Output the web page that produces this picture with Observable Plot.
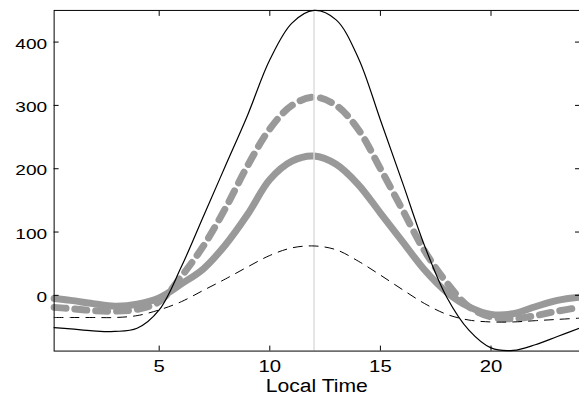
<!DOCTYPE html>
<html><head><meta charset="utf-8">
<script src="https://cdn.jsdelivr.net/npm/d3@7"></script>
<script src="https://cdn.jsdelivr.net/npm/@observablehq/plot@0.6"></script>
<style>html,body{margin:0;padding:0;background:#fff;overflow:hidden}</style>
</head><body><div id="chart"></div>
<script>
const hours       = [0.25, 1, 2, 3, 4, 5, 6, 7, 8, 9, 10, 11, 12, 13, 14, 15, 16, 17, 18, 19, 20, 21, 22, 23, 24];
const blackSolid  = [-51, -53, -56, -57, -52, -23, 45, 125, 205, 285, 372, 430, 450, 435, 375, 277, 178, 78, -3, -55, -83, -87, -78, -65, -52];
const blackDashed = [-35, -35, -35, -35, -32, -23, -10, 8, 26, 45, 63, 75, 78, 72, 54, 32, 9, -13, -30, -39, -42, -42, -40, -38, -36];
const greySolid   = [-5, -8, -13, -17, -14, -4, 18, 42, 80, 128, 183, 212, 220, 207, 175, 130, 85, 40, 5, -18, -30, -29, -18, -8, -3];
const greyDashed  = [-19, -21, -24, -25, -22, -10, 30, 78, 138, 205, 263, 300, 313, 300, 262, 200, 135, 70, 20, -18, -34, -37, -32, -25, -19];
const xTicks = [5, 10, 15, 20];
const yTicks = [0, 100, 200, 300, 400];
const xLabel = "Local Time";
const markerHour = 12;
const xDomain = [0.25, 24];
const yDomain = [-88, 450];

const rows = s => hours.map((h, i) => ({h, v: s[i]}));
const noText = () => "";

const chart = Plot.plot({
  width: 583, height: 398,
  marginLeft: 54, marginRight: 0, marginTop: 10, marginBottom: 45,
  style: {fontFamily: "'Liberation Sans', Arial, sans-serif", fontSize: "16px", color: "#000", background: "#fff"},
  x: {domain: xDomain},
  y: {domain: yDomain},
  marks: [
    Plot.line(rows(greySolid), {x: "h", y: "v", stroke: "#999", strokeWidth: 7, curve: "catmull-rom"}),
    Plot.line(rows(greyDashed), {x: "h", y: "v", stroke: "#999", strokeWidth: 7, strokeDasharray: "12,9", curve: "catmull-rom"}),
    Plot.ruleX([markerHour], {stroke: "#ddd", strokeWidth: 1.5}),
    Plot.line(rows(blackDashed), {x: "h", y: "v", stroke: "#000", strokeWidth: 1, strokeDasharray: "9,7", curve: "catmull-rom"}),
    Plot.line(rows(blackSolid), {x: "h", y: "v", stroke: "#000", strokeWidth: 1.2, curve: "catmull-rom"}),
    Plot.frame({stroke: "#000", strokeWidth: 1}),
    Plot.axisX({anchor: "bottom", ticks: xTicks, tickSize: -5, tickFormat: noText, label: null}),
    Plot.axisX({anchor: "top", ticks: xTicks, tickSize: -5, tickFormat: noText, label: null}),
    Plot.axisY({anchor: "left", ticks: yTicks, tickSize: -5, tickFormat: noText, label: null}),
    Plot.axisY({anchor: "right", ticks: yTicks, tickSize: -5, tickFormat: noText, label: null}),
    Plot.text(xTicks, {x: d => d, frameAnchor: "bottom", lineAnchor: "top", dy: 10, text: d => String(d), fontSize: 16}),
    Plot.text(yTicks, {y: d => d, frameAnchor: "left", textAnchor: "end", lineAnchor: "middle", dx: -7, dy: 2, text: d => String(d), fontSize: 15}),
    Plot.text([xLabel], {frameAnchor: "bottom", lineAnchor: "middle", dy: 35, text: d => d, fontSize: 19})
  ]
});
document.getElementById("chart").appendChild(chart);

// the reference lettering is horizontally stretched
chart.querySelectorAll("text").forEach(t => {
  if (!t.textContent) return;
  const s = t.textContent === xLabel ? 1.12 : 1.28;
  const tr = t.getAttribute("transform") || "";
  const x = +t.getAttribute("x") || 0;
  const y = +t.getAttribute("y") || 0;
  t.setAttribute("transform", `${tr} translate(${x},${y}) scale(${s},1) translate(${-x},${-y})`);
});
</script>
</body></html>
